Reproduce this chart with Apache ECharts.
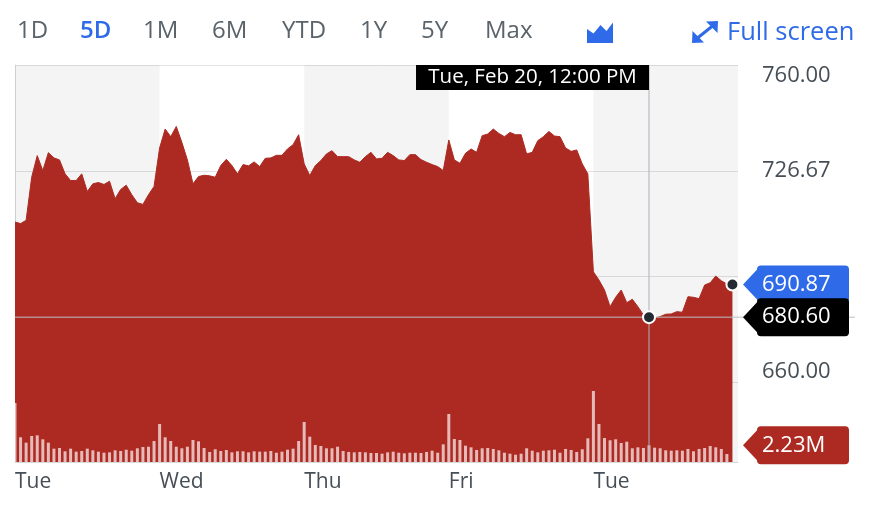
<!DOCTYPE html>
<html lang="en">
<head>
<meta charset="utf-8">
<title>5D price chart</title>
<script src="https://cdn.jsdelivr.net/npm/echarts@6/dist/echarts.min.js"></script>
<style>
    html, body { margin: 0; padding: 0; background: #fff; }
    #chart { width: 870px; height: 508px; }
</style>
</head>
<body>
<div id="chart"></div>
<script>
// 15 minute points, 26 per trading day
var dayNames = ['Tue', 'Wed', 'Thu', 'Fri', 'Tue'];
var perDay = 26;
var priceTicks = [660, 693.33, 726.67, 760];
var rangeButtons = ['1D', '5D', '1M', '6M', 'YTD', '1Y', '5Y', 'Max'];
var hoverIndex = 114;
var hoverLabel = 'Tue, Feb 20, 12:00 PM';

var prices = [
    710.56, 710.06, 711.09, 724.66, 731.47, 726.76, 732.41, 730.75, 730.12, 725.73, 723.63, 723.63, 725.73,
    720.18, 722.59, 723.00, 722.38, 723.41, 717.89, 720.81, 722.16, 719.15, 716.64, 716.11, 719.15, 721.75,
    733.88, 739.84, 737.42, 740.65, 735.64, 730.12, 722.59, 724.88, 725.29, 725.10, 724.66, 728.33, 730.31,
    728.33, 725.73, 728.64, 728.24, 729.49, 728.02, 730.62, 730.75, 731.56, 731.56, 733.57, 734.91, 738.05,
    728.86, 725.20, 728.33, 729.90, 732.00, 733.03, 731.15, 731.15, 731.15, 730.12, 729.37, 731.15, 732.50,
    730.43, 730.62, 732.50, 731.47, 730.12, 729.90, 731.78, 731.78, 730.21, 729.37, 728.64, 728.02, 726.76,
    736.39, 730.12, 729.05, 732.19, 733.57, 732.50, 737.74, 738.27, 739.84, 738.46, 737.42, 738.77, 738.05,
    738.05, 732.00, 732.50, 736.17, 737.42, 739.08, 737.64, 737.42, 733.88, 732.81, 733.25, 728.86, 725.73,
    694.88, 692.28, 689.15, 683.91, 686.86, 689.15, 685.17, 686.23, 683.91, 681.31, 680.60, 680.28, 680.78,
    681.53, 681.62, 682.34, 682.16, 687.05, 686.86, 686.42, 690.71, 691.43, 693.54, 692.06, 691.03, 690.87
];

// volume in millions
var volumes = [
    7.88, 3.30, 2.58, 3.47, 3.56, 3.03, 2.58, 1.78, 1.87, 1.43, 1.78, 1.38, 1.47,
    1.78, 1.56, 1.38, 1.24, 1.29, 1.56, 1.47, 1.64, 1.51, 1.83, 2.00, 2.04, 2.80,
    5.07, 3.30, 2.80, 2.04, 1.83, 2.04, 2.94, 2.76, 1.87, 1.34, 1.70, 1.47, 1.60,
    1.29, 1.43, 1.43, 1.29, 1.43, 1.38, 1.38, 1.47, 1.24, 1.38, 1.64, 1.78, 2.80,
    5.34, 3.38, 2.27, 2.14, 1.83, 1.83, 2.04, 1.47, 1.34, 1.29, 1.34, 1.29, 1.20,
    1.20, 1.11, 1.29, 1.38, 1.24, 1.16, 1.24, 1.24, 1.20, 1.34, 1.51, 1.24, 2.36,
    6.41, 3.07, 2.94, 2.18, 1.96, 1.60, 1.83, 1.87, 1.74, 1.56, 1.24, 1.11, 0.97,
    1.11, 1.83, 1.51, 1.29, 1.51, 1.56, 1.64, 1.24, 1.74, 1.60, 1.34, 1.70, 3.16,
    9.48, 5.07, 3.20, 2.90, 3.03, 2.54, 2.71, 1.83, 1.96, 1.87, 2.23, 1.91, 1.83,
    1.56, 1.51, 1.56, 1.51, 1.74, 1.43, 1.74, 1.87, 2.14, 1.96, 1.74, 1.07, null
];

var RED = '#ad2a22';
var BLUE = '#2f6be9';
var GREY_TEXT = '#464e56';
var FONT = 'Open Sans';
var totalSlots = perDay * dayNames.length;

var priceData = prices.map(function (p, i) { return [i, p]; });
var volData = volumes.map(function (v, i) { return [i, v]; });

// grey bands on every other day
var bands = [];
for (var d = 0; d < dayNames.length; d += 2) {
    bands.push([{ xAxis: d * perDay }, { xAxis: (d + 1) * perDay }]);
}

var labelStyle = function (pad) {
    return { fontSize: 22, color: GREY_TEXT, fontFamily: FONT, padding: pad };
};

var option = {
    animation: false,
    backgroundColor: '#fff',
    grid: { left: 15, right: 132, top: 65, bottom: 46 },
    xAxis: {
        type: 'value',
        min: 0,
        max: totalSlots,
        interval: perDay,
        axisLine: { show: true, lineStyle: { color: '#d6dade' } },
        axisTick: { show: false },
        splitLine: { show: false },
        axisLabel: {
            margin: 10,
            align: 'left',
            fontSize: 21,
            fontFamily: FONT,
            color: GREY_TEXT,
            formatter: function (v) {
                var d = v / perDay;
                return d < dayNames.length ? dayNames[d] : '';
            }
        }
    },
    yAxis: [{
        type: 'value',
        position: 'right',
        min: 635,
        max: 760,
        axisLine: { show: true, lineStyle: { color: '#d6dade' } },
        axisTick: { show: false, customValues: priceTicks },
        splitLine: { show: true, lineStyle: { color: '#e2e2e2' } },
        axisLabel: {
            customValues: priceTicks,
            margin: 24,
            align: 'left',
            formatter: function (v) {
                var s = v.toFixed(2);
                if (v === priceTicks[priceTicks.length - 1]) return '{top|' + s + '}';
                if (v === priceTicks[0]) return '{bot|' + s + '}';
                return '{mid|' + s + '}';
            },
            rich: {
                top: labelStyle([22, 0, 0, 0]),
                mid: labelStyle([0, 0, 0, 0]),
                bot: labelStyle([0, 0, 22, 0])
            }
        }
    }, {
        type: 'value',
        min: 0,
        max: 53,
        show: false
    }],
    series: [{
        // carrier for the day bands
        type: 'line',
        z: 1,
        data: priceData,
        showSymbol: false,
        silent: true,
        lineStyle: { opacity: 0 },
        markArea: {
            silent: true,
            itemStyle: { color: 'rgba(0,0,0,0.045)' },
            data: bands
        }
    }, {
        name: 'Price',
        type: 'line',
        z: 2,
        data: priceData,
        showSymbol: false,
        lineStyle: { color: RED, width: 1 },
        areaStyle: { color: RED, opacity: 1, origin: 'start' }
    }, {
        name: 'Volume',
        type: 'bar',
        z: 3,
        yAxisIndex: 1,
        barWidth: 3,
        data: volData,
        itemStyle: { color: 'rgba(255,255,255,0.68)' }
    }]
};

var chart = echarts.init(document.getElementById('chart'));
chart.setOption(option);

// overlay: toolbar, crosshair, value tags
var last = prices.length - 1;
var pLast = chart.convertToPixel({ xAxisIndex: 0, yAxisIndex: 0 }, [last, prices[last]]);
var pHover = chart.convertToPixel({ xAxisIndex: 0, yAxisIndex: 0 }, [hoverIndex, prices[hoverIndex]]);
var vHover = chart.convertToPixel({ xAxisIndex: 0, yAxisIndex: 1 }, [hoverIndex, volumes[hoverIndex]]);
var topY = chart.convertToPixel({ yAxisIndex: 0 }, priceTicks[priceTicks.length - 1]);
var bottomY = chart.convertToPixel({ yAxisIndex: 0 }, 635);
var leftX = chart.convertToPixel({ xAxisIndex: 0 }, 0);
var axisX = chart.convertToPixel({ xAxisIndex: 0 }, totalSlots);

function tag(yc, text, color) {
    var body = axisX + 19;
    return {
        type: 'group', z: 100,
        children: [
            { type: 'polygon', z: 100, shape: { points: [[axisX + 5, yc], [body + 1, yc - 16], [body + 1, yc + 16]] }, style: { fill: color } },
            { type: 'rect', z: 100, shape: { x: body, y: yc - 19, width: 92, height: 38, r: 4 }, style: { fill: color } },
            { type: 'text', z: 101, x: axisX + 24, y: yc, style: { text: text, fill: '#fff', font: '22px "Open Sans"', verticalAlign: 'middle', align: 'left' } }
        ]
    };
}

var graphics = [];
var btnX = [17, 80, 143, 212, 282, 360, 421, 485];
rangeButtons.forEach(function (b, i) {
    graphics.push({
        type: 'text', x: btnX[i], y: 31,
        style: {
            text: b, fill: b === '5D' ? BLUE : '#5b636a',
            font: (b === '5D' ? '600 ' : '') + '24px "Open Sans"',
            verticalAlign: 'middle'
        }
    });
});
// area chart icon
graphics.push({
    type: 'polygon',
    shape: { points: [[587, 29], [593.5, 33.5], [600.5, 25], [606.5, 31], [613, 22.5], [613, 43], [587, 43]] },
    style: { fill: BLUE }
});
// full screen icon
graphics.push({ type: 'line', shape: { x1: 695, y1: 40, x2: 715, y2: 24 }, style: { stroke: BLUE, lineWidth: 3 } });
graphics.push({ type: 'polygon', shape: { points: [[718, 21], [706, 21.5], [717.5, 33]] }, style: { fill: BLUE } });
graphics.push({ type: 'polygon', shape: { points: [[692, 43], [704, 42.5], [692.5, 31]] }, style: { fill: BLUE } });
graphics.push({
    type: 'text', x: 727, y: 33,
    style: { text: 'Full screen', fill: BLUE, font: '25.5px "Open Sans"', verticalAlign: 'middle' }
});

// crosshair
graphics.push({ type: 'line', z: 50, shape: { x1: pHover[0], y1: topY, x2: pHover[0], y2: bottomY }, style: { stroke: '#aab2bd', lineWidth: 1 } });
graphics.push({ type: 'line', z: 50, shape: { x1: leftX, y1: pHover[1], x2: axisX + 117, y2: pHover[1] }, style: { stroke: '#bcc1c7', lineWidth: 1 } });
graphics.push({ type: 'rect', z: 60, shape: { x: pHover[0] - 233, y: topY, width: 233, height: 25 }, style: { fill: '#000' } });
graphics.push({
    type: 'text', z: 61, x: pHover[0] - 116.5, y: topY + 12.5,
    style: { text: hoverLabel, fill: '#fff', font: '20.5px "Open Sans"', align: 'center', verticalAlign: 'middle' }
});

// dots
[pLast, pHover].forEach(function (p) {
    graphics.push({ type: 'circle', z: 70, shape: { cx: p[0], cy: p[1], r: 6 }, style: { fill: '#232a31', stroke: '#fff', lineWidth: 2 } });
});

graphics.push(tag(pLast[1], prices[last].toFixed(2), BLUE));
graphics.push(tag(pHover[1], prices[hoverIndex].toFixed(2), '#000'));
graphics.push(tag(vHover[1], volumes[hoverIndex].toFixed(2) + 'M', RED));

chart.setOption({ graphic: graphics });
</script>
</body>
</html>
